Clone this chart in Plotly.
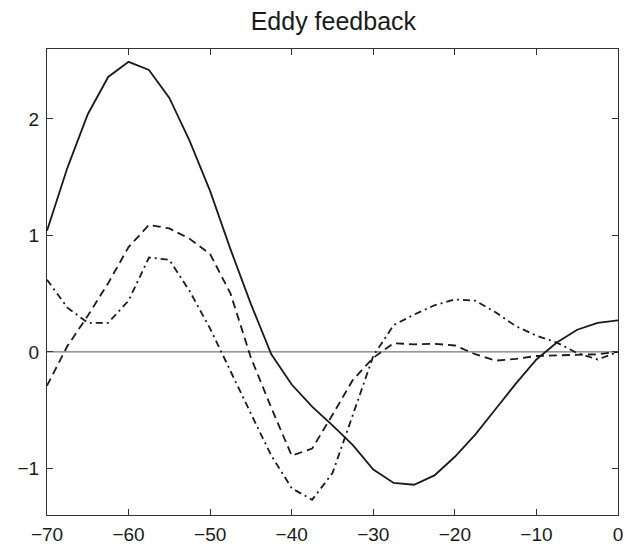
import plotly.graph_objects as go

x = [-70, -67.5, -65, -62.5, -60, -57.5, -55, -52.5, -50, -47.5, -45, -42.5, -40, -37.5,
     -35, -32.5, -30, -27.5, -25, -22.5, -20, -17.5, -15, -12.5, -10, -7.5, -5, -2.5, 0]

solid = [1.04, 1.58, 2.04, 2.36, 2.49, 2.42, 2.18, 1.81, 1.38, 0.88, 0.41, -0.02, -0.28, -0.47,
         -0.63, -0.80, -1.01, -1.125, -1.14, -1.06, -0.90, -0.71, -0.49, -0.27, -0.065, 0.08, 0.19, 0.25, 0.27]

dashed = [-0.29, 0.05, 0.31, 0.59, 0.90, 1.09, 1.06, 0.97, 0.84, 0.50, -0.05, -0.48, -0.89, -0.83,
          -0.54, -0.24, -0.05, 0.075, 0.065, 0.07, 0.055, -0.02, -0.075, -0.06, -0.035, -0.03, -0.02, -0.02, 0.0]

dashdot = [0.62, 0.38, 0.25, 0.25, 0.44, 0.81, 0.79, 0.52, 0.20, -0.17, -0.53, -0.89, -1.17, -1.27,
           -1.04, -0.54, -0.035, 0.23, 0.32, 0.40, 0.45, 0.44, 0.34, 0.22, 0.14, 0.08, -0.01, -0.065, 0.0]

xticks = [-70, -60, -50, -40, -30, -20, -10, 0]
yticks = [-1, 0, 1, 2]


def lab(v):
    return "\u2212" + str(-v) if v < 0 else str(v)


fig = go.Figure()
fig.add_trace(go.Scatter(x=[-70, 0], y=[0, 0], mode="lines",
                         line=dict(color="#555555", width=1), hoverinfo="skip"))
fig.add_trace(go.Scatter(x=x, y=solid, mode="lines", line=dict(color="#1a1a1a", width=1.8)))
fig.add_trace(go.Scatter(x=x, y=dashed, mode="lines",
                         line=dict(color="#1a1a1a", width=1.8, dash="8px,5px")))
fig.add_trace(go.Scatter(x=x, y=dashdot, mode="lines",
                         line=dict(color="#1a1a1a", width=1.8, dash="7px,4px,2px,4px")))

fig.update_layout(
    width=635, height=548,
    margin=dict(l=47, r=17, t=49, b=33, autoexpand=False),
    paper_bgcolor="white", plot_bgcolor="white",
    showlegend=False,
    font=dict(family="Liberation Sans, Arial, sans-serif", color="#1a1a1a", size=19),
    title=dict(text="Eddy feedback", x=0.525, xanchor="center", y=0.962, yanchor="middle",
               font=dict(size=25, color="#1a1a1a")),
)
axis_common = dict(showgrid=False, zeroline=False, showline=True, linecolor="#333333", linewidth=1.2,
                   mirror="ticks", ticks="inside", ticklen=6, tickcolor="#333333", tickwidth=1,
                   automargin=False)
fig.update_xaxes(range=[-70, 0], tickvals=xticks, ticktext=[lab(v) for v in xticks],
                 ticklabelstandoff=2, **axis_common)
fig.update_yaxes(range=[-1.4, 2.6], tickvals=yticks, ticktext=[lab(v) for v in yticks],
                 ticklabelstandoff=3, **axis_common)

fig.write_html("out.html")
